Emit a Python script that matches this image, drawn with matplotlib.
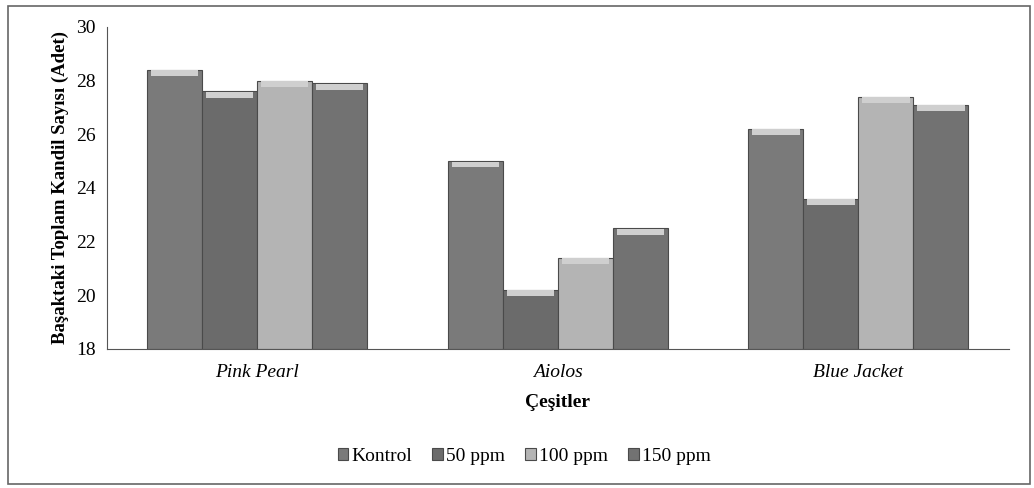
import numpy as np
import matplotlib.pyplot as plt
from matplotlib.patches import Rectangle

plt.rcParams['font.family'] = ['Liberation Serif', 'DejaVu Serif']

cesitler = ['Pink Pearl', 'Aiolos', 'Blue Jacket']
dozlar = ['Kontrol', '50 ppm', '100 ppm', '150 ppm']
kontrol = [28.4, 25.0, 26.2]
ppm50 = [27.6, 20.2, 23.6]
ppm100 = [28.0, 21.4, 27.4]
ppm150 = [27.9, 22.5, 27.1]
renkler = ['#7a7a7a', '#6b6b6b', '#b4b4b4', '#727272']

fig = plt.figure(figsize=(10.34, 4.88), dpi=100)
ax = fig.add_axes([0.1035, 0.285, 0.872, 0.66])

x = np.arange(len(cesitler))
w = 0.183
seriler = [kontrol, ppm50, ppm100, ppm150]
for i, (vals, lab) in enumerate(zip(seriler, dozlar)):
    pos = x + (i - 1.5) * w
    ax.bar(pos, np.array(vals) - 18, bottom=18, width=w, color=renkler[i],
           edgecolor='#4a4a4a', linewidth=0.8, label=lab)
    # light bevel on top of each bar
    ax.bar(pos, [0.22] * len(vals), bottom=np.array(vals) - 0.24, width=w * 0.86,
           color='#cfcfcf', linewidth=0)

ax.set_xlim(-0.5, 2.5)
ax.set_ylim(18, 30)
ax.set_yticks([18, 20, 22, 24, 26, 28, 30])
ax.set_xticks(x)
ax.set_xticklabels(cesitler, style='italic', fontsize=14)
ax.tick_params(axis='y', labelsize=14, length=0, pad=8)
ax.tick_params(axis='x', length=0, pad=11)
for s in ['top', 'right']:
    ax.spines[s].set_visible(False)
ax.spines['left'].set_color('#555555')
ax.spines['bottom'].set_color('#555555')
ax.set_xlabel('Çeşitler', fontsize=14, fontweight='bold', labelpad=9)
ax.set_ylabel('Başaktaki Toplam Kandil Sayısı (Adet)', fontsize=13.5, fontweight='bold', labelpad=5)

handles, labels = ax.get_legend_handles_labels()
fig.legend(handles[:4], labels[:4], loc='center', bbox_to_anchor=(0.507, 0.065), ncol=4,
           frameon=False, fontsize=14, handlelength=0.55, handleheight=0.55,
           handletextpad=0.15, columnspacing=1.05)

fig.add_artist(Rectangle((0.008, 0.008), 0.988, 0.98, transform=fig.transFigure,
                         fill=False, edgecolor='#666666', linewidth=1.2))

fig.savefig('out.png', dpi=100)
